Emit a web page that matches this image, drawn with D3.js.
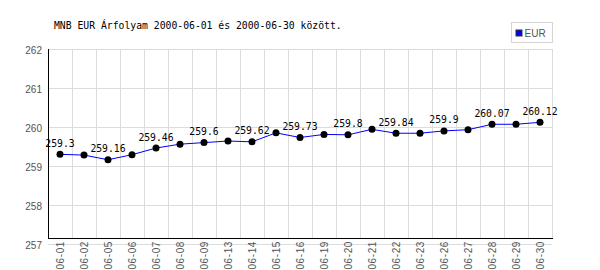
<!DOCTYPE html>
<html>
<head>
<meta charset="utf-8">
<script src="https://cdn.jsdelivr.net/npm/d3@7"></script>
<style>
  body { margin: 0; background: #fff; }
  svg { display: block; }
</style>
</head>
<body>
<div id="chart"></div>
<script>
// MNB EUR rates, June 2000
var dates = ['06-01', '06-02', '06-05', '06-06', '06-07', '06-08', '06-09', '06-13', '06-14', '06-15',
  '06-16', '06-19', '06-20', '06-21', '06-22', '06-23', '06-26', '06-27', '06-28', '06-29', '06-30'];
var eur = [259.3, 259.28, 259.16, 259.29, 259.46, 259.56, 259.6, 259.64, 259.62, 259.85,
  259.73, 259.81, 259.8, 259.94, 259.84, 259.84, 259.9, 259.93, 260.07, 260.07, 260.12];
var yTicks = [257, 258, 259, 260, 261, 262];
var title = 'MNB EUR Árfolyam 2000-06-01 és 2000-06-30 között.';
var seriesName = 'EUR';

var width = 600, height = 270;
var margin = { top: 49, right: 48, bottom: 26, left: 48 };
var plotW = width - margin.left - margin.right;
var plotH = height - margin.top - margin.bottom;
var axisY = plotH - 6; // the black x axis sits a bit above the 257 line

var svg = d3.select('#chart')
  .append('svg')
  .attr('width', width)
  .attr('height', height);

var mono = '"DejaVu Sans Mono", monospace';
var sans = '"Liberation Sans", Arial, sans-serif';

// title
svg.append('text')
  .attr('x', 54)
  .attr('y', 29)
  .style('font-family', mono)
  .style('font-size', '9.75px')
  .attr('fill', '#000')
  .text(title);

// legend
var legend = svg.append('g').attr('transform', 'translate(511.5,22.5)');
legend.append('rect')
  .attr('width', 41)
  .attr('height', 20)
  .attr('fill', '#fff')
  .attr('stroke', '#d4d4d4');
legend.append('rect')
  .attr('x', 4.5)
  .attr('y', 7.5)
  .attr('width', 6)
  .attr('height', 6)
  .attr('fill', '#0000ff')
  .attr('stroke', '#333');
legend.append('text')
  .attr('x', 13)
  .attr('y', 14.5)
  .style('font-family', sans)
  .style('font-size', '10px')
  .attr('fill', '#555')
  .text(seriesName);

var g = svg.append('g')
  .attr('transform', 'translate(' + margin.left + ',' + margin.top + ')');

var xscale = d3.scaleBand()
  .domain(dates)
  .range([0, plotW]);

var yscale = d3.scaleLinear()
  .domain([d3.min(yTicks), d3.max(yTicks)])
  .range([plotH, 0]);

var half = xscale.bandwidth() / 2;

// horizontal grid
g.selectAll('line.hgrid')
  .data(yTicks)
  .enter().append('line')
  .attr('class', 'hgrid')
  .attr('x1', 0)
  .attr('x2', plotW)
  .attr('y1', d => Math.round(yscale(d)) + 0.5)
  .attr('y2', d => Math.round(yscale(d)) + 0.5)
  .attr('stroke', '#dcdcdc');

// vertical grid at band edges
g.selectAll('line.vgrid')
  .data(dates.slice(1).map(d => xscale(d)).concat([plotW]))
  .enter().append('line')
  .attr('class', 'vgrid')
  .attr('x1', d => Math.round(d) + 0.5)
  .attr('x2', d => Math.round(d) + 0.5)
  .attr('y1', 0)
  .attr('y2', axisY)
  .attr('stroke', '#dcdcdc');

// y axis labels
var yAxis = d3.axisLeft(yscale)
  .tickValues(yTicks)
  .tickSize(0)
  .tickPadding(6)
  .tickFormat(d3.format('d'));

g.append('g')
  .attr('class', 'yAxis')
  .call(yAxis)
  .call(a => a.select('.domain').remove())
  .selectAll('text')
  .attr('dy', '0.45em')
  .style('font-family', sans)
  .style('font-size', '10px')
  .attr('fill', '#555');

// x axis labels
var xAxis = d3.axisBottom(xscale).tickSize(0);

g.append('g')
  .attr('class', 'xAxis')
  .attr('transform', 'translate(0,' + plotH + ')')
  .call(xAxis)
  .call(a => a.select('.domain').remove())
  .selectAll('text')
  .attr('transform', 'rotate(-90)')
  .attr('x', 3)
  .attr('y', 0)
  .attr('dy', '0.35em')
  .style('text-anchor', 'end')
  .style('font-family', sans)
  .style('font-size', '10px')
  .style('letter-spacing', '0.6px')
  .attr('fill', '#555');

// black axis lines
g.append('line')
  .attr('x1', 0.5).attr('x2', 0.5)
  .attr('y1', 0).attr('y2', axisY + 1)
  .attr('stroke', '#000');
g.append('line')
  .attr('x1', 0).attr('x2', plotW + 1)
  .attr('y1', axisY + 0.5).attr('y2', axisY + 0.5)
  .attr('stroke', '#000');

// series
var line = d3.line()
  .x((d, i) => xscale(dates[i]) + half)
  .y(d => yscale(d));

g.append('path')
  .datum(eur)
  .attr('d', line)
  .attr('fill', 'none')
  .attr('stroke', '#0000ff')
  .attr('stroke-width', 1);

g.selectAll('circle')
  .data(eur)
  .enter().append('circle')
  .attr('cx', (d, i) => xscale(dates[i]) + half)
  .attr('cy', d => yscale(d))
  .attr('r', 3.5)
  .attr('fill', '#000');

// value labels on every other point
g.selectAll('text.val')
  .data(eur.map((v, i) => ({ v: v, i: i })).filter(d => d.i % 2 === 0))
  .enter().append('text')
  .attr('class', 'val')
  .attr('x', d => xscale(dates[d.i]) + half)
  .attr('y', d => yscale(d.v) - 7.5)
  .style('text-anchor', 'middle')
  .style('font-family', mono)
  .style('font-size', '9.75px')
  .attr('fill', '#000')
  .text(d => d.v);
</script>
</body>
</html>
